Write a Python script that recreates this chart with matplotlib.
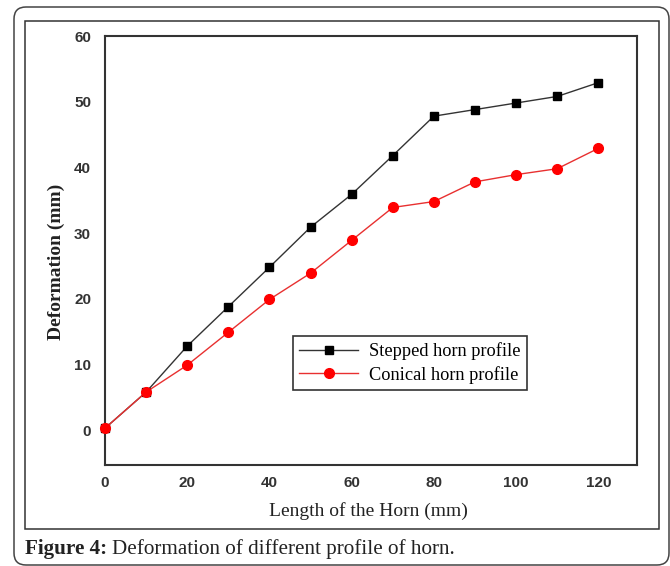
import matplotlib
matplotlib.use('Agg')
import matplotlib.pyplot as plt
from matplotlib.patches import FancyBboxPatch, Rectangle

length_mm = [0, 10, 20, 30, 40, 50, 60, 70, 80, 90, 100, 110, 120]
stepped = [0.3, 5.8, 12.8, 18.8, 24.8, 30.9, 35.9, 41.8, 47.8, 48.8, 49.8, 50.8, 52.9]
conical = [0.3, 5.8, 9.9, 14.9, 19.9, 23.9, 28.9, 33.9, 34.8, 37.8, 38.9, 39.8, 42.9]

x_ticks = [0, 20, 40, 60, 80, 100, 120]
y_ticks = [0, 10, 20, 30, 40, 50, 60]

serif = ['Liberation Serif', 'DejaVu Serif']
sans = ['Liberation Sans', 'DejaVu Sans']

fig = plt.figure(figsize=(6.7, 5.66), dpi=100)

# outer rounded border and inner frame (pixel sizes in inches)
outer = FancyBboxPatch((0.14, 0.01), 6.55, 5.58,
                       boxstyle="round,pad=0,rounding_size=0.12",
                       transform=fig.dpi_scale_trans, fill=False,
                       edgecolor='#444444', linewidth=1.1)
fig.patches.append(outer)
inner = Rectangle((0.245, 0.37), 6.345, 5.08, transform=fig.dpi_scale_trans,
                  fill=False, edgecolor='#333333', linewidth=1.1)
fig.patches.append(inner)

ax = fig.add_axes([105 / 670, (566 - 465) / 566, 532 / 670, 429 / 566])

ax.plot(length_mm, stepped, color='#333333', linewidth=1.0, marker='s',
        markersize=6, markerfacecolor='black', markeredgecolor='black',
        label='Stepped horn profile', clip_on=False, zorder=3)
ax.plot(length_mm, conical, color='#e83030', linewidth=1.0, marker='o',
        markersize=7, markerfacecolor='red', markeredgecolor='red',
        label='Conical horn profile', clip_on=False, zorder=4)

ax.set_xlim(0, 129.4)
ax.set_ylim(-5.3, 60)
ax.set_xticks(x_ticks)
ax.set_yticks(y_ticks)
ax.tick_params(length=0, labelsize=11, labelcolor='#333333')
ax.tick_params(axis='y', pad=10)
ax.tick_params(axis='x', pad=8)
for lab in ax.get_xticklabels() + ax.get_yticklabels():
    lab.set_fontfamily(sans)
    lab.set_fontweight('bold')

for sp in ax.spines.values():
    sp.set_color('#333333')
    sp.set_linewidth(1.5)

ax.set_xlabel('Length of the Horn (mm)', fontfamily=serif, fontsize=14,
              color='#222222', va='center')
ax.xaxis.set_label_coords(0.495, -0.107)
ax.set_ylabel('Deformation (mm)', fontfamily=serif, fontsize=14,
              fontweight='bold', color='#222222', va='center')
ax.yaxis.set_label_coords(-0.092, 0.473)

leg = ax.legend(loc='upper left', bbox_to_anchor=(0.353, 0.301),
                borderaxespad=0, fancybox=False, framealpha=1,
                edgecolor='#333333', handlelength=3.2, borderpad=0.35,
                labelspacing=0.3, handletextpad=0.6,
                prop={'family': serif, 'size': 13.2})
leg.get_frame().set_linewidth(1.2)

# caption: bold prefix followed by regular text
fig.canvas.draw()
cap1 = fig.text(25 / 670, 1 - 549 / 566, 'Figure 4:', fontfamily=serif,
                fontsize=15.2, fontweight='bold', color='#222222', va='center')
bb = cap1.get_window_extent(fig.canvas.get_renderer())
fig.text(bb.x1 / fig.bbox.width + 5 / 670, 1 - 549 / 566,
         'Deformation of different profile of horn.', fontfamily=serif,
         fontsize=15.2, color='#222222', va='center')

fig.savefig('out.png', dpi=100)
